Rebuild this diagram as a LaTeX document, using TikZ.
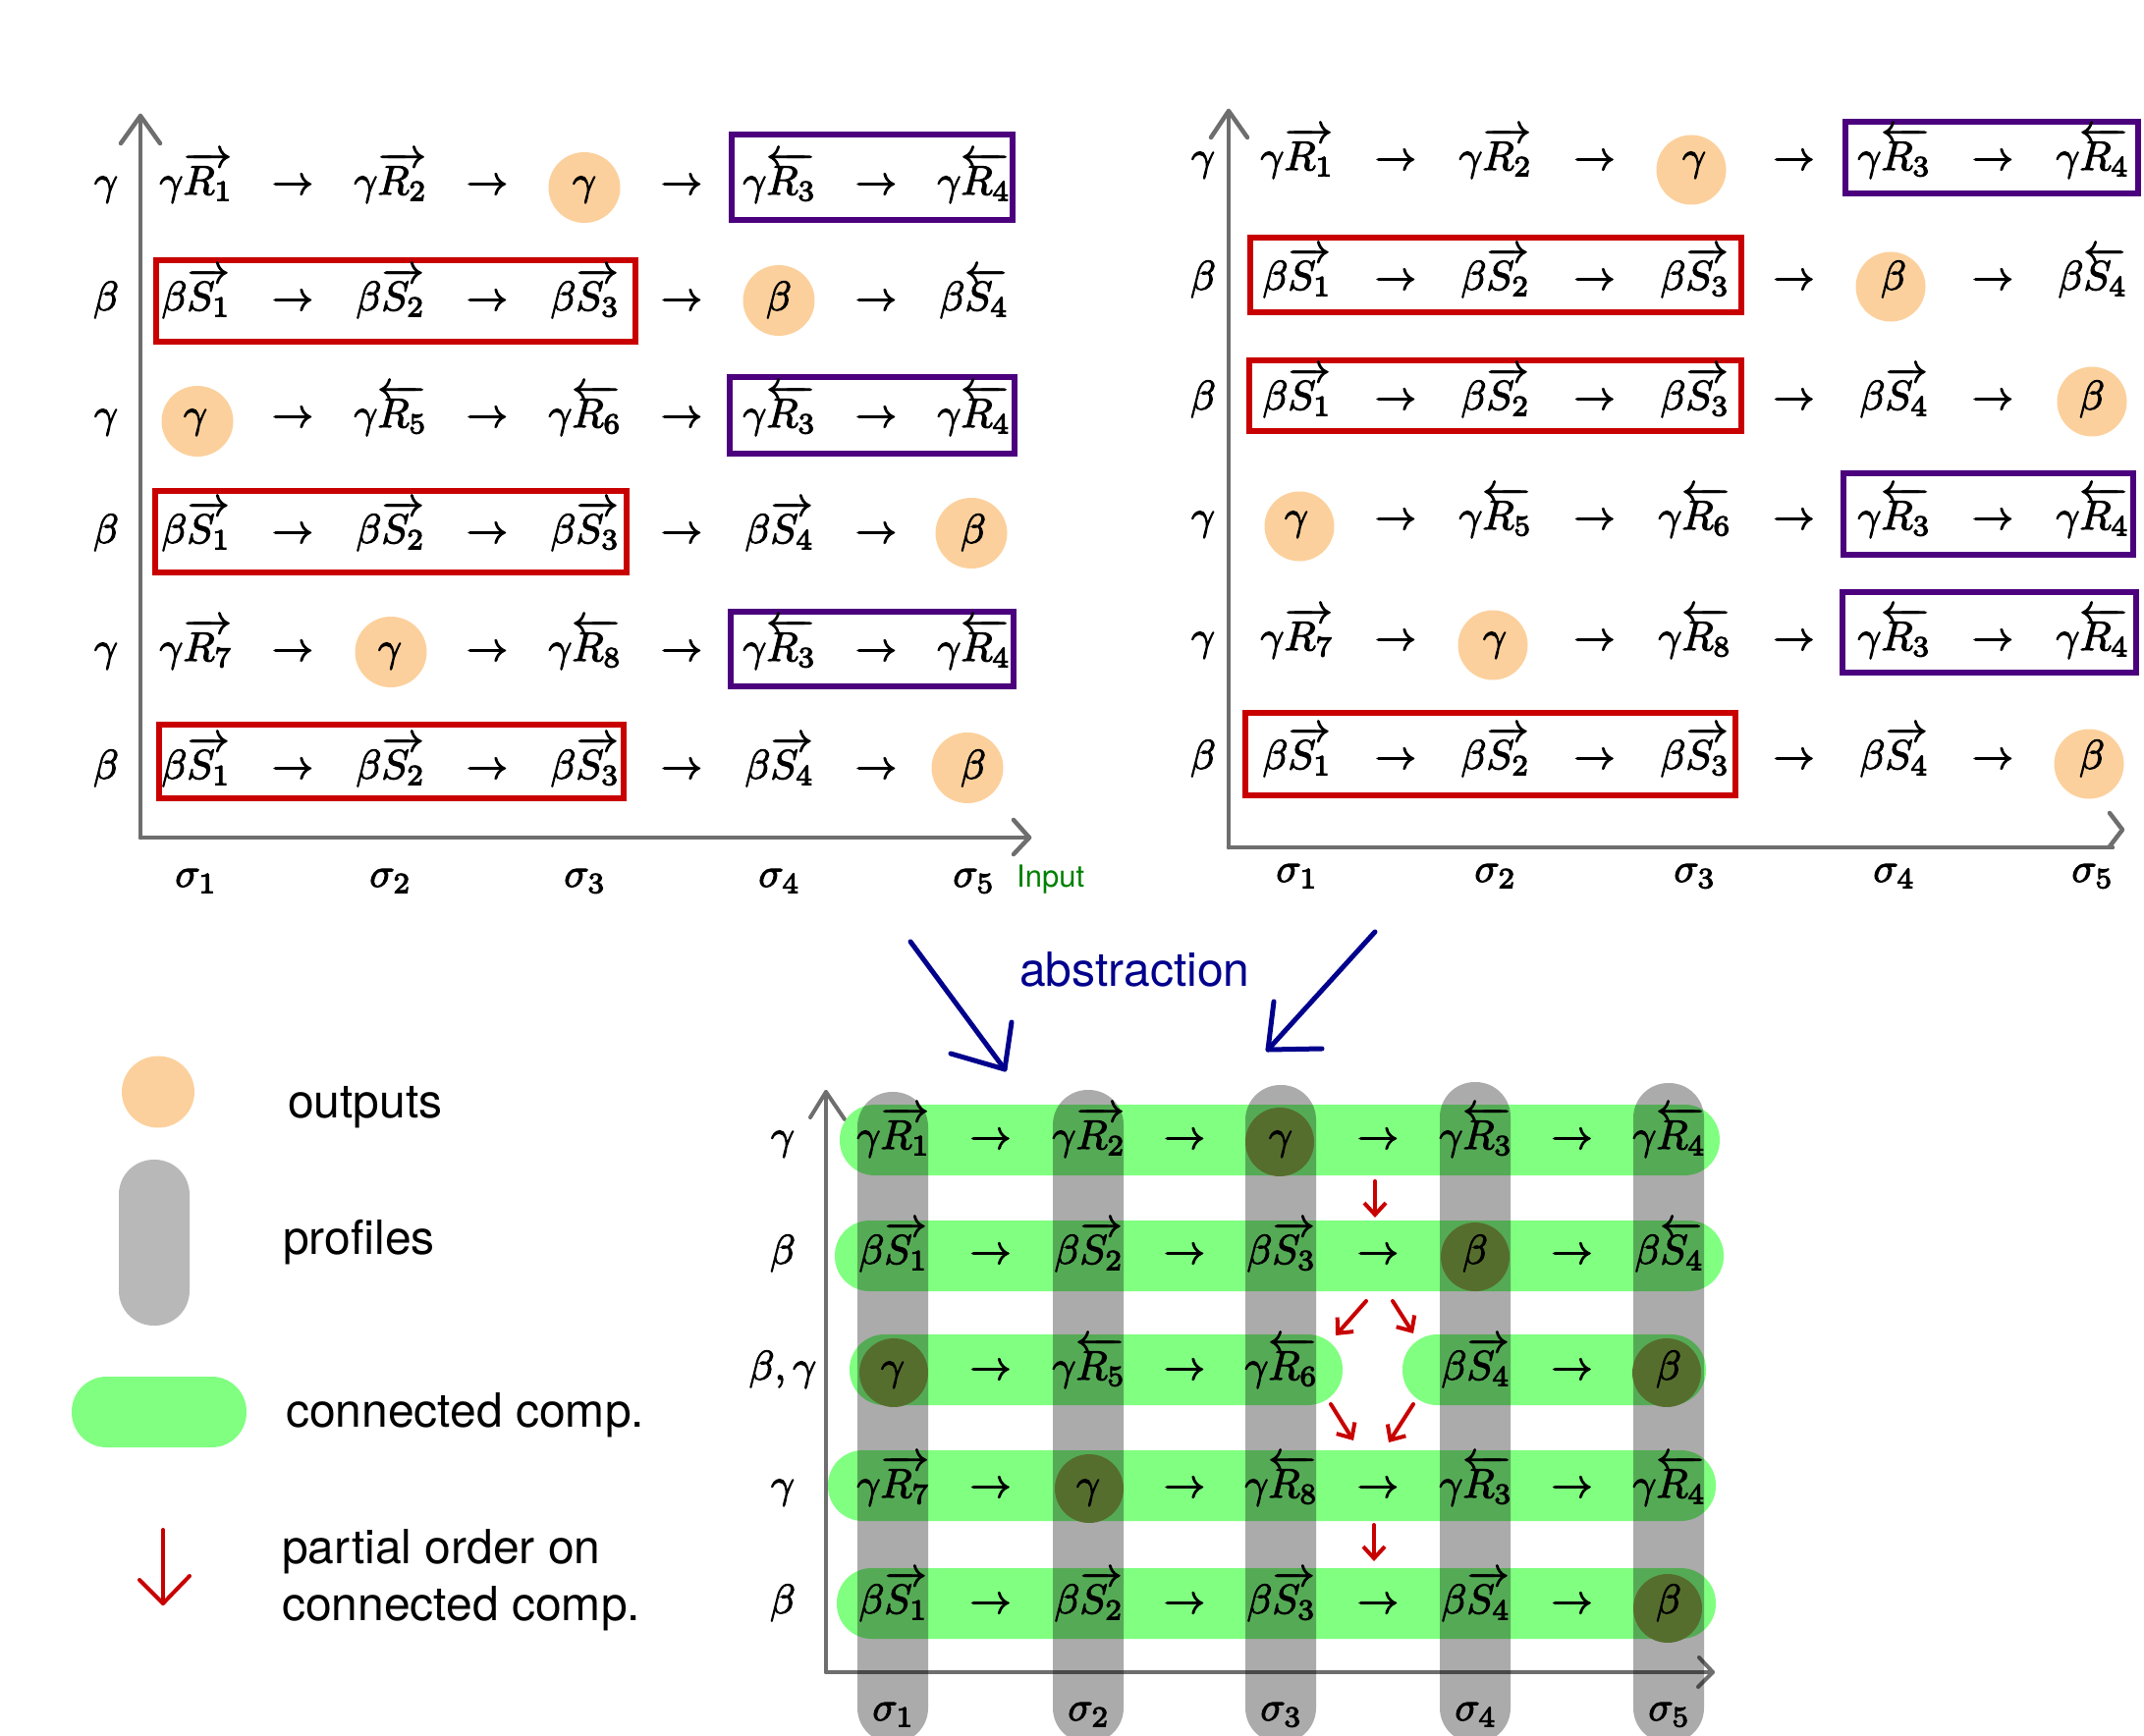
\documentclass[tikz,border=0pt]{standalone}
\usepackage{fontspec}
\newfontfamily\hel{TeX Gyre Heros}
\DeclareFontShape{OML}{cmm}{m}{it}{<-26>cmmi5<26-36>cmmi7<36->cmmi10}{\skewchar\font=127}
\DeclareFontShape{OMS}{cmsy}{m}{n}{<-26>cmsy5<26-36>cmsy7<36->cmsy10}{\skewchar\font=48}
\DeclareFontShape{OT1}{cmr}{m}{n}{<-26>cmr5<26-36>cmr7<36->cmr10}{}
\DeclareFontShape{OMX}{cmex}{m}{n}{<->cmex10}{}
\DeclareMathSizes{42}{42}{29.4}{21}
\usetikzlibrary{calc,shapes.geometric,arrows.meta}
\definecolor{outorange}{RGB}{252,208,156}
\definecolor{boxpurple}{RGB}{75,0,125}
\definecolor{boxred}{RGB}{200,0,0}
\definecolor{axisgray}{RGB}{110,110,110}
\definecolor{ccgreen}{RGB}{128,255,128}
\definecolor{olivec}{RGB}{86,110,45}
\definecolor{navyb}{RGB}{0,0,140}
\definecolor{inputgreen}{RGB}{0,128,0}
\definecolor{leggray}{RGB}{184,184,184}
\definecolor{poRed}{RGB}{200,0,0}
\newcommand\gRr[1]{\gamma\overrightarrow{R_{#1}}}
\newcommand\gRl[1]{\gamma\overleftarrow{R_{#1}}}
\newcommand\bSr[1]{\beta\overrightarrow{S_{#1}}}
\newcommand\bSl[1]{\beta\overleftarrow{S_{#1}}}
\newcommand\heavytext{\special{pdf:literal direct 0 g 0 G 2 Tr 1.1 w}}
\newcommand\arrlist{1/2,2/3,3/4,4/5}
\newcommand\prow[9]{%
  \node[cell] (#1-#2-0) at (\cxL,#3) {$#4$};
  \node[cell] (#1-#2-1) at (\cxA,#3) {$#5$};
  \node[cell] (#1-#2-2) at (\cxB,#3) {$#6$};
  \node[cell] (#1-#2-3) at (\cxC,#3) {$#7$};
  \node[cell] (#1-#2-4) at (\cxD,#3) {$#8$};
  \node[cell] (#1-#2-5) at (\cxE,#3) {$#9$};
  \foreach \ia/\ib in \arrlist {\node[cell] at ($(#1-#2-\ia.base)!0.5!(#1-#2-\ib.base)$) {$\rightarrow$};}%
}
\begin{document}
\begin{tikzpicture}[x=1pt,y=-1pt,
 cell/.style={anchor=base,inner sep=0pt,font=\heavytext\fontsize{42}{50}\selectfont},
 outc/.style={ellipse,fill=outorange,inner sep=0pt,minimum width=73pt,minimum height=72pt},
 pbox/.style={draw=boxpurple,line width=6pt},
 rbox/.style={draw=boxred,line width=6pt},
 axisline/.style={draw=axisgray,line width=4.5pt,line cap=round,line join=round},
 band/.style={rectangle,fill=ccgreen,rounded corners=35.5pt,inner sep=0pt,minimum height=72pt},
 pillar/.style={fill=black,fill opacity=0.33,rounded corners=35.5pt},
 legtext/.style={anchor=base west,inner sep=0pt,font=\hel\fontsize{48}{56}\selectfont},
 poarrow/.style={draw=poRed,line width=4pt,line cap=round,-{Straight Barb[length=12pt,width=22pt]}},
 abarrow/.style={draw=navyb,line width=5pt,line cap=round,line join=round}]
\useasboundingbox (0,0) rectangle (2183,1768);

%%%%%%%%%%%%%%%% TOP LEFT PANEL
\draw[axisline] (143,853) -- (143,118);
\draw[axisline] (123,146) -- (143,118) -- (163,146);
\draw[axisline] (143,853) -- (1048,853);
\draw[axisline] (1032,835) -- (1048,853) -- (1032,870);
\node[outc] (tl-o1) at (595,191) {};
\node[outc] (tl-o2) at (793,306) {};
\node[outc] (tl-o3) at (201,429) {};
\node[outc] (tl-o4) at (989,543) {};
\node[outc] (tl-o5) at (398,664) {};
\node[outc] (tl-o6) at (985,782) {};
\draw[pbox] (745,137) rectangle (1031,224);
\draw[rbox] (159,265) rectangle (647,348);
\draw[pbox] (743,384) rectangle (1033,462);
\draw[rbox] (158,500) rectangle (638,583);
\draw[pbox] (744,623) rectangle (1032,699);
\draw[rbox] (162,738) rectangle (635,813);
\def\cxL{108}\def\cxA{199}\def\cxB{397}\def\cxC{595}\def\cxD{793}\def\cxE{991}
\prow{tl}{1}{198}{\gamma}{\gRr1}{\gRr2}{\gamma}{\gRl3}{\gRl4}
\prow{tl}{2}{316}{\beta}{\bSr1}{\bSr2}{\bSr3}{\beta}{\bSl4}
\prow{tl}{3}{435}{\gamma}{\gamma}{\gRl5}{\gRl6}{\gRl3}{\gRl4}
\prow{tl}{4}{553}{\beta}{\bSr1}{\bSr2}{\bSr3}{\bSr4}{\beta}
\prow{tl}{5}{673}{\gamma}{\gRr7}{\gamma}{\gRl8}{\gRl3}{\gRl4}
\prow{tl}{6}{793}{\beta}{\bSr1}{\bSr2}{\bSr3}{\bSr4}{\beta}
\foreach \x [count=\i] in {199,397,595,793,991} \node[cell] (tl-s\i) at (\x,903) {$\sigma_{\i}$};
\node[anchor=base west,inner sep=0pt,font=\hel\fontsize{31}{36}\selectfont,text=inputgreen] (inputlbl) at (1035,903) {Input};

%%%%%%%%%%%%%%%% TOP RIGHT PANEL
\draw[axisline] (1251,863) -- (1251,113);
\draw[axisline] (1233,140) -- (1251,113) -- (1270,140);
\draw[axisline] (1251,863) -- (2151,863);
\draw[axisline] (2148,828) -- (2161,845) -- (2148,862);
\begin{scope}[outc/.append style={minimum width=71pt,minimum height=71pt}]
\node[outc] (tr-o1) at (1722,173) {};
\node[outc] (tr-o2) at (1925,292) {};
\node[outc] (tr-o3) at (2130,409) {};
\node[outc] (tr-o4) at (1323,536) {};
\node[outc] (tr-o5) at (1520,657) {};
\node[outc] (tr-o6) at (2127,778) {};
\end{scope}
\draw[pbox] (1879,124) rectangle (2177,197);
\draw[rbox] (1273,242) rectangle (1773,318);
\draw[rbox] (1272,367) rectangle (1773,439);
\draw[pbox] (1877,482) rectangle (2172,565);
\draw[pbox] (1876,603) rectangle (2175,685);
\draw[rbox] (1268,726) rectangle (1767,810);
\def\cxL{1225}\def\cxA{1320}\def\cxB{1522}\def\cxC{1725}\def\cxD{1928}\def\cxE{2130}
\prow{tr}{1}{173}{\gamma}{\gRr1}{\gRr2}{\gamma}{\gRl3}{\gRl4}
\prow{tr}{2}{295}{\beta}{\bSr1}{\bSr2}{\bSr3}{\beta}{\bSl4}
\prow{tr}{3}{417}{\beta}{\bSr1}{\bSr2}{\bSr3}{\bSr4}{\beta}
\prow{tr}{4}{539}{\gamma}{\gamma}{\gRl5}{\gRl6}{\gRl3}{\gRl4}
\prow{tr}{5}{662}{\gamma}{\gRr7}{\gamma}{\gRl8}{\gRl3}{\gRl4}
\prow{tr}{6}{783}{\beta}{\bSr1}{\bSr2}{\bSr3}{\bSr4}{\beta}
\foreach \x [count=\i] in {1320,1522,1725,1928,2130} \node[cell] (tr-s\i) at (\x,898) {$\sigma_{\i}$};

%%%%%%%%%%%%%%%% ABSTRACTION
\node[anchor=base west,inner sep=0pt,font=\hel\fontsize{48}{56}\selectfont,text=navyb] (abst) at (1038,1004) {abstraction};
\coordinate (abL0) at (927,959); \coordinate (abL1) at (1023,1089);
\coordinate (abR0) at (1400,949); \coordinate (abR1) at (1291,1069);
\draw[abarrow] (abL0) -- (abL1);
\draw[abarrow] (968,1073) -- (abL1) -- (1030,1041);
\draw[abarrow] (abR0) -- (abR1);
\draw[abarrow] (1297,1020) -- (abR1) -- (1346,1068);

%%%%%%%%%%%%%%%% BOTTOM PANEL
\draw[axisline,line width=4pt] (841,1703) -- (841,1112);
\draw[axisline,line width=4pt] (825,1138) -- (841,1112) -- (860,1140);
\draw[axisline,line width=4pt] (841,1703) -- (1744,1703);
\draw[axisline,line width=4pt] (1730,1688) -- (1744,1703) -- (1729,1718);
\node[band,minimum width=896pt] (cc1) at (1303,1161) {};
\node[band,minimum width=905pt] (cc2) at (1302.5,1279) {};
\node[band,minimum width=502pt] (cc3a) at (1116,1395) {};
\node[band,minimum width=309pt] (cc3b) at (1582.5,1395) {};
\node[band,minimum width=904pt] (cc4) at (1295,1513) {};
\node[band,minimum width=895pt] (cc5) at (1299.5,1633) {};
\fill[pillar] (873,1112) rectangle (945,1775);
\fill[pillar] (1072,1110) rectangle (1144,1775);
\fill[pillar] (1268,1105) rectangle (1340,1775);
\fill[pillar] (1466,1102) rectangle (1538,1775);
\fill[pillar] (1663,1103) rectangle (1735,1775);
\begin{scope}[outc/.append style={fill=olivec,minimum width=70pt,minimum height=70pt}]
\node[outc] (bt-o1) at (1303,1163) {};
\node[outc] (bt-o2) at (1502,1280) {};
\node[outc] (bt-o3) at (910,1398) {};
\node[outc] (bt-o4) at (1697,1398) {};
\node[outc] (bt-o5) at (1109,1516) {};
\node[outc] (bt-o6) at (1698,1638) {};
\end{scope}
\def\cxL{797}\def\cxA{909}\def\cxB{1108}\def\cxC{1304}\def\cxD{1502}\def\cxE{1699}
\prow{bt}{1}{1170}{\gamma}{\gRr1}{\gRr2}{\gamma}{\gRl3}{\gRl4}
\prow{bt}{2}{1287}{\beta}{\bSr1}{\bSr2}{\bSr3}{\beta}{\bSl4}
\renewcommand\arrlist{1/2,2/3,4/5}
\prow{bt}{3}{1405}{\beta,\gamma}{\gamma}{\gRl5}{\gRl6}{\bSr4}{\beta}
\renewcommand\arrlist{1/2,2/3,3/4,4/5}
\prow{bt}{4}{1525}{\gamma}{\gRr7}{\gamma}{\gRl8}{\gRl3}{\gRl4}
\prow{bt}{5}{1643}{\beta}{\bSr1}{\bSr2}{\bSr3}{\bSr4}{\beta}
\foreach \x [count=\i] in {909,1108,1304,1502,1699} \node[cell] (bt-s\i) at (\x,1752) {$\sigma_{\i}$};
% partial order arrows
\coordinate (p1a) at (1400,1203); \coordinate (p1b) at (1400,1240);
\coordinate (p2a) at (1391,1325); \coordinate (p2b) at (1360,1360);
\coordinate (p3a) at (1418,1325); \coordinate (p3b) at (1439,1358);
\coordinate (p4a) at (1355,1430); \coordinate (p4b) at (1378,1467);
\coordinate (p5a) at (1439,1430); \coordinate (p5b) at (1414,1469);
\coordinate (p6a) at (1399,1553); \coordinate (p6b) at (1399,1590);
\foreach \k in {1,...,6} \draw[poarrow] (p\k a) -- (p\k b);

%%%%%%%%%%%%%%%% LEGEND
\node[outc,minimum width=74pt,minimum height=73pt] (legout) at (161,1112) {};
\node[rectangle,fill=leggray,rounded corners=35.5pt,inner sep=0pt,minimum width=72pt,minimum height=169pt] (legprof) at (157,1265.5) {};
\node[band,minimum width=178pt] (legcc) at (162,1438) {};
\coordinate (lega) at (166,1558); \coordinate (legb) at (166,1633);
\draw[draw=poRed,line width=4pt,line cap=round,line join=round] (lega) -- (legb);
\draw[draw=poRed,line width=4pt,line cap=round,line join=round] (142,1609) -- (legb) -- (193,1605);
\node[legtext] (t-out) at (293,1138) {outputs};
\node[legtext] (t-prof) at (288,1277) {profiles};
\node[legtext] (t-cc) at (291,1453) {connected comp.};
\node[legtext] (t-po1) at (287,1592) {partial order on};
\node[legtext] (t-po2) at (287,1650) {connected comp.};
\end{tikzpicture}
\end{document}
